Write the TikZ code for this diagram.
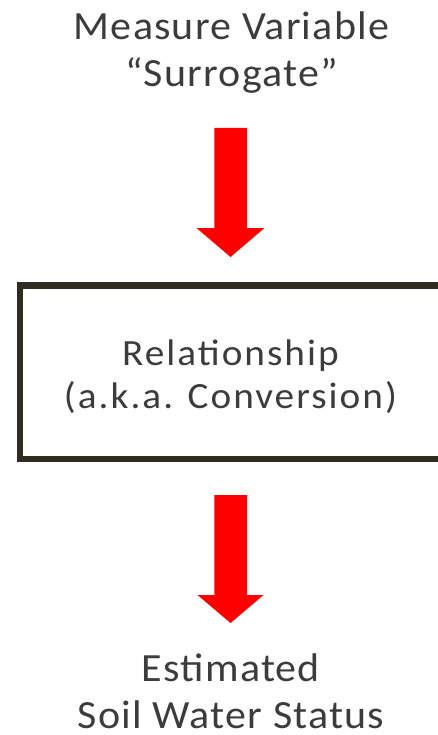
\documentclass[tikz,border=0pt]{standalone}
\usepackage{fontspec}
\setmainfont{Carlito}
\newfontfamily\mainlbl[LetterSpace=3,FakeStretch=1.05]{Carlito}
\newfontfamily\rellbl[LetterSpace=5.5,FakeStretch=1.06]{Carlito}
\usetikzlibrary{calc}
\definecolor{txtgray}{RGB}{60,60,60}
\definecolor{boxc}{RGB}{46,43,33}
\definecolor{arrowred}{RGB}{255,0,0}
\begin{document}
\begin{tikzpicture}[x=1pt,y=-1pt,
  lbl/.style={text=txtgray, align=center, inner sep=0pt, anchor=base},
  bigfont/.style={font=\mainlbl\fontsize{40}{46.5}\selectfont},
  midfont/.style={font=\rellbl\fontsize{37}{42.5}\selectfont},
  bigarrow/.style={fill=arrowred, draw=none},
  framebox/.style={draw=boxc, line width=6.5pt, inner sep=0pt}]
\useasboundingbox (0,0) rectangle (438,735);
\clip (0,0) rectangle (438,735);
% labels (base anchor = baseline of last line)
\node[lbl, bigfont] (src) at (231.5,86.5) {Measure Variable\\“Surrogate”};
\node[framebox, minimum width=440pt, minimum height=173.5pt] (box) at (240,372.25) {};
\node[lbl, midfont] (rel) at (230.5,408) {Relationship\\(a.k.a. Conversion)};
\node[lbl, bigfont] (est) at (231,728) {Estimated\\Soil Water Status};
% arrow 1
\coordinate (a1top) at (230.5,128);
\coordinate (a1tip) at (230.5,257);
\fill[bigarrow] ($(a1top)+(-16.25,0)$) -- ($(a1top)+(16.25,0)$) -- ($(a1tip)+(16.25,-29)$) -- ($(a1tip)+(34,-29)$) -- (a1tip) -- ($(a1tip)+(-34,-29)$) -- ($(a1tip)+(-16.25,-29)$) -- cycle;
% arrow 2
\coordinate (a2top) at (230.5,495);
\coordinate (a2tip) at (230.5,623);
\fill[bigarrow] ($(a2top)+(-16.25,0)$) -- ($(a2top)+(16.25,0)$) -- ($(a2tip)+(16.25,-28)$) -- ($(a2tip)+(33,-28)$) -- (a2tip) -- ($(a2tip)+(-33,-28)$) -- ($(a2tip)+(-16.25,-28)$) -- cycle;
\end{tikzpicture}
\end{document}
